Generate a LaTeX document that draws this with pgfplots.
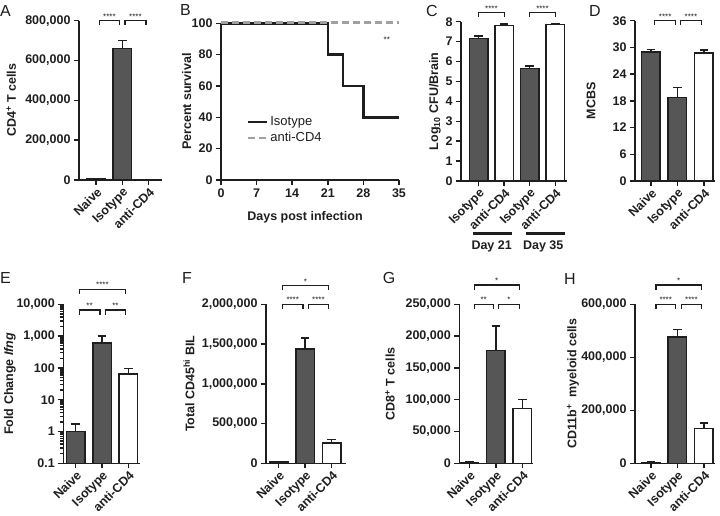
\documentclass[border=0pt]{standalone}
\usepackage{fontspec}
\setmainfont{Liberation Sans}
\usepackage{pgfplots}
\pgfplotsset{compat=1.18}
\usetikzlibrary{calc}
\definecolor{darkbar}{RGB}{86,86,86}
\definecolor{ink}{RGB}{30,30,30}
\definecolor{dashgray}{RGB}{160,160,160}
\newcommand{\tk}{\fontsize{12.5}{14}\selectfont\bfseries}
\newcommand{\lab}{\fontsize{12.5}{14}\selectfont\bfseries}
\newcommand{\sig}{\fontsize{8}{9}\selectfont}
\newcommand{\pl}{\fontsize{16}{16}\selectfont}
\newcommand{\brk}[4]{%
 \draw[line width=1.2pt,ink] (axis cs:#1,#3) ++(0pt,-4.5pt) -- ++(0pt,4.5pt) -- (axis cs:#2,#3) -- ++(0pt,-4.5pt);
 \node[anchor=base,font=\sig,inner sep=0pt,text=ink,yshift=1.5pt] at ($(axis cs:#1,#3)!0.5!(axis cs:#2,#3)$) {#4};}
\pgfplotsset{
 gp/.style={
  scale only axis, clip=false, anchor=south west,
  axis x line*=bottom, axis y line*=left,
  axis line style={-, line width=1.5pt, ink},
  tick align=outside, major tick length=5pt,
  tick style={line width=1.5pt, ink},
  minor tick num=0,
  tick label style={font=\tk, text=ink},
  label style={font=\lab, text=ink},
  ylabel style={anchor=center},
  scaled y ticks=false,
  /pgf/number format/assume math mode=true,
  /pgf/number format/fixed,
  /pgf/number format/1000 sep={,},
 },
 cat/.style={xtick={0,1,2}, xticklabels={Naive,Isotype,anti-CD4},
  xticklabel style={rotate=45, anchor=north east, inner sep=1pt}},
 errs/.style={error bars/y dir=plus, error bars/y explicit,
  error bars/error bar style={line width=1.5pt, ink},
  error bars/error mark options={rotate=90, mark size=4.3pt, line width=1.5pt, ink}},
 bardark/.style={ybar, bar width=18.5pt, bar shift=0pt, fill=darkbar, draw=ink, line width=1.5pt, errs},
 barwhite/.style={ybar, bar width=18.5pt, bar shift=0pt, fill=white, draw=ink, line width=1.5pt, errs},
}
\begin{document}
\begin{tikzpicture}
\path[use as bounding box] (0pt,0pt) rectangle (720pt,-515pt);
% panel letters
\node[font=\pl,text=ink] at (5.5pt,-11pt) {A};
\node[font=\pl,text=ink] at (185.5pt,-9.5pt) {B};
\node[font=\pl,text=ink] at (432pt,-11pt) {C};
\node[font=\pl,text=ink] at (595pt,-11pt) {D};
\node[font=\pl,text=ink] at (5.5pt,-278pt) {E};
\node[font=\pl,text=ink] at (187pt,-278pt) {F};
\node[font=\pl,text=ink] at (389pt,-278pt) {G};
\node[font=\pl,text=ink] at (570pt,-279pt) {H};

% A
\begin{axis}[gp, cat, at={(79pt,-180pt)}, width=82.7pt, height=159.3pt,
 xmin=-0.65, xmax=2.5, ymin=0, ymax=800000, ytick={0,200000,400000,600000,800000},
 ylabel={CD4\textsuperscript{+} T cells}, ylabel style={at={(axis description cs:-0.82,0.5)}}]
\addplot[bardark] coordinates {(0,5000) +- (0,1500) (1,660000) +- (0,40000)};
\addplot[barwhite] coordinates {(2,1000) +- (0,500)};
\brk{0.12}{0.9}{800000}{****}
\brk{1.1}{1.9}{800000}{****}
\end{axis}

% B
\begin{axis}[gp, at={(221pt,-180pt)}, width=178pt, height=156.7pt,
 xmin=0, xmax=35, ymin=0, ymax=100, xtick={0,7,14,21,28,35}, ytick={0,20,40,60,80,100},
 xlabel={Days post infection}, ylabel={Percent survival},
 ylabel style={at={(axis description cs:-0.193,0.5)}},
 xlabel style={at={(axis description cs:0.472,-0.238)}, anchor=center},
 legend style={draw=none, fill=none, at={(axis cs:5.05,31.8)}, anchor=west,
  font=\fontsize{13}{15}\selectfont, text=ink, inner sep=0pt, row sep=1pt},
 legend cell align=left,
 legend image code/.code={\draw[#1] (0pt,0pt) -- (19pt,0pt);}]
\addplot[ink, line width=2.5pt] coordinates {(0,100) (21,100) (21,80) (24,80) (24,60) (28,60) (28,40) (35,40)};
\addplot[dashgray, line width=2.5pt, dash pattern=on 7pt off 4pt] coordinates {(0,100.6) (35,100.6)};
\legend{Isotype, anti-CD4}
\node[font=\sig,text=ink] at (axis cs:32.6,89.7) {**};
\end{axis}

% C
\begin{axis}[gp, at={(461pt,-181pt)}, width=106pt, height=159.3pt,
 xmin=-0.69, xmax=3.46, ymin=0, ymax=8, ytick={0,1,2,3,4,5,6,7,8},
 xtick={0,1,2,3}, xticklabels={Isotype,anti-CD4,Isotype,anti-CD4},
 xticklabel style={rotate=45, anchor=north east, inner sep=1pt},
 ylabel={Log\textsubscript{10} CFU/Brain}, ylabel style={at={(axis description cs:-0.245,0.5)}}]
\addplot[bardark] coordinates {(0,7.15) +- (0,0.13) (2,5.65) +- (0,0.13)};
\addplot[barwhite] coordinates {(1,7.82) +- (0,0.06) (3,7.87) +- (0,0.05)};
\brk{0}{1}{8.45}{****}
\brk{2}{3}{8.45}{****}
\draw[line width=3pt, ink] (axis cs:-0.235,-2.63) -- (axis cs:1.29,-2.63);
\draw[line width=3pt, ink] (axis cs:1.855,-2.63) -- (axis cs:3.38,-2.63);
\node[font=\lab,text=ink,anchor=base] at (axis cs:0.51,-3.44) {Day 21};
\node[font=\lab,text=ink,anchor=base] at (axis cs:2.53,-3.44) {Day 35};
\end{axis}

% D
\begin{axis}[gp, cat, at={(635pt,-181pt)}, width=80pt, height=160.3pt,
 xmin=-0.6, xmax=2.42, ymin=0, ymax=36, ytick={0,6,12,18,24,30,36},
 ylabel={MCBS}, ylabel style={at={(axis description cs:-0.55,0.5)}}]
\addplot[bardark] coordinates {(0,29.0) +- (0,0.5) (1,18.8) +- (0,2.2)};
\addplot[barwhite] coordinates {(2,28.7) +- (0,0.7)};
\brk{0.15}{0.93}{36}{****}
\brk{1.12}{1.9}{36}{****}
\end{axis}

% E
\begin{axis}[gp, cat, at={(63.3pt,-463.3pt)}, width=76.7pt, height=159pt,
 xmin=-0.47, xmax=2.44, ymode=log, log origin=infty, ymin=0.1, ymax=10000,
 ytick={0.1,1,10,100,1000,10000}, yticklabels={0.1,1,10,100,{1,000},{10,000}},
 ylabel={Fold Change \textit{Ifng}}, ylabel style={at={(axis description cs:-0.695,0.5)}}]
\addplot[bardark] coordinates {(0,1.0) +- (0,0.7) (1,600) +- (0,420)};
\addplot[barwhite] coordinates {(2,65) +- (0,32)};
\brk{0.13}{1.9}{29600}{****}
\brk{0.13}{0.92}{6620}{**}
\brk{1.12}{1.9}{6620}{**}
\end{axis}

% F
\begin{axis}[gp, cat, at={(266pt,-463.3pt)}, width=79.7pt, height=159pt,
 xmin=-0.48, xmax=2.53, ymin=0, ymax=2000000, ytick={0,500000,1000000,1500000,2000000},
 ylabel={Total CD45\textsuperscript{hi} BIL}, ylabel style={at={(axis description cs:-0.966,0.5)}}]
\addplot[bardark] coordinates {(0,14000) +- (0,8000) (1,1435000) +- (0,140000)};
\addplot[barwhite] coordinates {(2,258000) +- (0,40000)};
\brk{0.14}{1.87}{2234000}{*}
\brk{0.14}{0.92}{2000000}{****}
\brk{1.13}{1.87}{2000000}{****}
\end{axis}

% G
\begin{axis}[gp, cat, at={(459.3pt,-463.3pt)}, width=74pt, height=159pt,
 xmin=-0.38, xmax=2.41, ymin=0, ymax=250000, ytick={0,50000,100000,150000,200000,250000},
 ylabel={CD8\textsuperscript{+} T cells}, ylabel style={at={(axis description cs:-0.936,0.5)}}]
\addplot[bardark] coordinates {(0,1500) +- (0,800) (1,177000) +- (0,39000)};
\addplot[barwhite] coordinates {(2,86000) +- (0,14000)};
\brk{0.18}{1.88}{280300}{*}
\brk{0.18}{0.9}{250000}{**}
\brk{1.11}{1.88}{250000}{*}
\end{axis}

% H
\begin{axis}[gp, cat, at={(635pt,-463.3pt)}, width=80pt, height=159pt,
 xmin=-0.6, xmax=2.42, ymin=0, ymax=600000, ytick={0,200000,400000,600000},
 ylabel={CD11b\textsuperscript{+}\ \ myeloid cells}, ylabel style={at={(axis description cs:-0.775,0.5)}}]
\addplot[bardark] coordinates {(0,4000) +- (0,2000) (1,476000) +- (0,29000)};
\addplot[barwhite] coordinates {(2,132000) +- (0,20000)};
\brk{0.19}{1.9}{672800}{*}
\brk{0.19}{0.93}{600000}{****}
\brk{1.16}{1.9}{600000}{****}
\end{axis}
\end{tikzpicture}
\end{document}
